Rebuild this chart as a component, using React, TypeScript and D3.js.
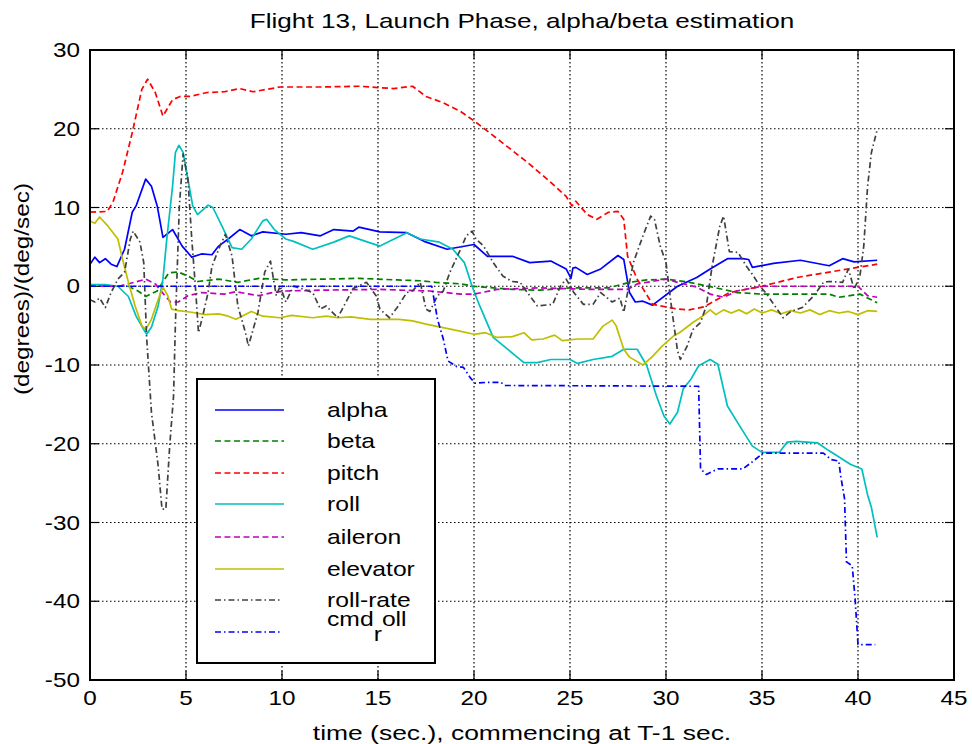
import React from 'react';
import * as d3 from 'd3';

const xTicks = [0, 5, 10, 15, 20, 25, 30, 35, 40, 45];
const yTicks = [-50, -40, -30, -20, -10, 0, 10, 20, 30];

const alphaT = [0, 0.25, 0.5, 0.8, 1.1, 1.4, 1.8, 2.2, 2.4, 2.9, 3.2, 3.5, 3.8, 4.3, 4.8, 5.3, 5.8, 6.35, 6.7, 7.2, 7.8, 8.4, 9, 10.2, 11, 12, 12.7, 13.7, 14.0, 15.1, 16.5, 17.4, 18.6, 20, 20.7, 22, 22.9, 24, 24.8, 25.05, 25.15, 25.3, 25.9, 26.6, 27.5, 27.8, 28.1, 28.4, 28.8, 29.3, 30.6, 31.6, 32.3, 33.2, 34, 34.3, 34.5, 35.6, 37, 38.5, 39.2, 39.8, 41];
const alphaV = [2.8, 3.7, 3.0, 3.5, 2.8, 2.5, 4.7, 9.4, 10.2, 13.6, 12.7, 10.2, 6.2, 7.2, 5.1, 3.7, 4.1, 4.0, 5.1, 6.0, 7.2, 6.4, 6.9, 6.6, 6.8, 6.4, 7.2, 7.0, 7.5, 6.9, 6.8, 5.7, 4.7, 5.3, 3.8, 3.8, 3.0, 3.2, 2.2, 1.0, 2.3, 2.4, 1.5, 2.2, 3.9, 3.4, -0.8, -2.0, -1.9, -2.4, 0, 1.1, 2.2, 3.5, 3.5, 3.4, 2.4, 2.9, 3.3, 2.6, 3.5, 3.1, 3.3];

const betaT = [0, 2.0, 2.5, 2.9, 3.5, 4.1, 4.6, 5.1, 5.6, 6.7, 7.7, 8.8, 10.2, 12, 14, 16, 17.2, 18, 19.3, 20, 22, 23.4, 25, 27, 28.1, 29, 30, 31, 32.6, 33.7, 35, 37, 38.5, 39, 40.1, 41];
const betaV = [0, 0, -0.6, -1.3, -0.6, 1.7, 1.8, 1.3, 0.6, 0.9, 0.5, 1.0, 0.8, 0.9, 1.0, 0.8, 0.7, 0.5, 0.3, 0, -0.4, -0.5, -0.2, -0.2, 0.5, 0.8, 0.9, 0.6, -0.2, -0.8, -1.0, -1.0, -1.0, -1.4, -1.0, -2.1];

const pitchT = [0, 0.9, 1.2, 1.7, 2.2, 2.7, 3.0, 3.4, 3.8, 4.3, 4.7, 5.2, 6.1, 7, 7.8, 8.5, 9.9, 12, 14, 15.8, 16.8, 17.5, 18.4, 19.3, 20, 20.7, 21.7, 22.8, 24, 24.8, 25.1, 25.3, 25.9, 26.4, 27, 27.5, 27.8, 28, 28.5, 29.3, 30.6, 31.2, 32, 33.3, 35, 36.8, 38.5, 41];
const pitchV = [9.4, 9.5, 10.7, 14.5, 19.5, 25, 26.3, 24.6, 21.6, 23.7, 24.1, 24.1, 24.6, 24.7, 25.1, 24.7, 25.3, 25.3, 25.4, 25.1, 25.4, 24.1, 23.3, 22.2, 21, 19.7, 17.8, 15.7, 13.2, 11.4, 10.2, 10.8, 9.1, 8.5, 9.4, 9.5, 8.5, 3.8, 0.9, -2.3, -2.9, -3.0, -2.6, -0.8, 0, 1.1, 1.8, 2.8];

const rollT = [0, 0.8, 1.45, 2.0, 2.4, 2.8, 2.95, 3.2, 3.55, 3.8, 4.0, 4.3, 4.45, 4.63, 4.85, 5.1, 5.35, 5.6, 6.15, 6.4, 6.9, 7.4, 7.9, 8.4, 9.0, 9.2, 9.6, 10.2, 10.6, 11.6, 12.7, 13.5, 15.1, 16.5, 17.2, 18.2, 18.9, 19.5, 19.9, 20.3, 21.0, 21.7, 22.6, 23.3, 24, 25, 25.4, 26.2, 27.2, 27.8, 28.5, 29.0, 29.5, 29.9, 30.2, 30.6, 30.9, 31.3, 31.7, 32.3, 32.7, 33.2, 33.85, 34.5, 35.0, 35.9, 36.3, 36.8, 37.9, 38.5, 39.6, 40.2, 40.5, 40.7, 41];
const rollV = [0.2, 0.2, 0, -1.3, -3.8, -5.5, -6.1, -5.2, -2.5, 0.9, 6, 12.7, 17, 17.9, 17, 13.6, 10.2, 9.1, 10.3, 10, 7.5, 4.9, 4.7, 6, 8.3, 8.5, 7.2, 6, 5.7, 4.7, 5.6, 6.4, 5.1, 6.8, 6.0, 5.6, 4.7, 3.0, 0, -2.5, -6.5, -7.9, -9.7, -9.7, -9.3, -9.3, -9.8, -9.3, -8.9, -8.0, -8.0, -10.1, -13.9, -16.5, -17.5, -16.0, -13.0, -11.8, -10.1, -9.3, -9.9, -15.2, -17.8, -20.3, -21.1, -21.1, -19.8, -19.7, -19.9, -20.9, -22.6, -23.2, -26.5, -28.1, -31.9];

const aileronT = [0, 1.5, 2.3, 2.9, 3.4, 3.9, 4.2, 4.6, 5.1, 5.8, 7, 7.6, 8.8, 9.5, 10.2, 12, 15, 17.7, 19.3, 20, 21.2, 23.4, 26, 28, 28.5, 30, 30.6, 31.6, 32.3, 33, 33.7, 35, 38.5, 40, 40.5, 41];
const aileronV = [0, 0, 0.5, 0.9, 0.3, -1.2, -2.0, -2.0, -1.2, -0.8, -1.0, -0.7, -1.2, -0.8, -0.6, -0.5, -0.4, -0.6, -1.0, -1.0, -0.4, -0.2, -0.4, -0.4, 0.3, 0.9, 0.5, -0.1, -1.0, -1.4, -0.6, 0, 0, 0, -1.2, -1.4];

const elevatorT = [0, 0.25, 0.5, 0.95, 1.45, 1.7, 2.0, 2.35, 2.7, 2.9, 3.2, 3.55, 3.8, 4.05, 4.25, 4.6, 5.3, 6.0, 6.7, 7.2, 7.6, 8.4, 9.0, 9.9, 10.5, 11.6, 12.3, 12.9, 13.6, 14.6, 16.1, 16.8, 17.5, 18.9, 20, 20.6, 21.2, 22, 22.6, 23.0, 23.6, 24.2, 24.6, 25.4, 26.2, 26.7, 27.2, 27.4, 27.8, 28.1, 28.8, 29.3, 29.8, 30.4, 30.7, 31.4, 31.9, 32.3, 32.6, 33, 33.4, 33.8, 34.2, 34.6, 35, 35.5, 36, 36.5, 37, 37.5, 38, 38.5, 39, 39.5, 40, 40.5, 41];
const elevatorV = [8.3, 8.0, 8.8, 7.6, 6.0, 3.4, 0.5, -2.5, -5.0, -5.5, -4.2, -1.7, -0.1, -1.2, -2.9, -3.1, -3.3, -3.6, -3.5, -3.8, -4.2, -3.2, -3.8, -4.0, -3.7, -4.0, -3.8, -4.0, -3.9, -4.2, -4.2, -4.4, -4.8, -5.5, -6.1, -5.9, -6.5, -6.4, -5.9, -6.8, -6.7, -6.2, -6.9, -6.7, -6.7, -5.1, -4.3, -5.0, -8.0, -9.0, -10.0, -8.9, -7.6, -6.3, -5.9, -4.6, -3.8, -3.0, -3.6, -3.0, -3.4, -3.0, -3.5, -2.9, -3.4, -3.0, -3.5, -3.1, -3.4, -3.0, -3.6, -3.1, -3.4, -3.2, -3.6, -3.1, -3.2];

const rollRateT = [0, 0.25, 0.5, 0.8, 1.1, 1.45, 1.8, 2.1, 2.25, 2.6, 2.8, 2.95, 3.2, 3.55, 3.75, 3.95, 4.15, 4.35, 4.45, 4.65, 4.85, 5.1, 5.3, 5.5, 5.65, 5.85, 6.15, 6.35, 6.7, 7.05, 7.4, 7.7, 8.1, 8.25, 8.75, 9.1, 9.4, 9.7, 9.9, 10.2, 10.6, 10.9, 11.6, 12.0, 12.3, 12.9, 13.4, 13.7, 14.4, 14.9, 15.1, 15.6, 16.0, 16.5, 16.8, 17.2, 17.5, 17.7, 18.1, 18.4, 18.75, 19.3, 19.6, 19.9, 20.1, 20.5, 21.0, 21.5, 22.0, 22.4, 22.9, 23.3, 24.1, 24.5, 24.8, 25.2, 25.7, 26.2, 26.6, 27.2, 27.6, 27.8, 28.0, 28.3, 28.8, 29.2, 29.4, 29.7, 30.0, 30.3, 30.6, 30.75, 31.1, 31.4, 31.8, 32.1, 32.4, 32.8, 33.0, 33.3, 33.75, 34.2, 34.5, 34.9, 35.25, 35.5, 35.9, 36.1, 36.5, 37.1, 37.7, 38.2, 38.5, 39.2, 39.5, 39.8, 40.1, 40.3, 40.5, 40.7, 41];
const rollRateV = [-1.7, -2.0, -1.5, -2.7, -0.8, 0.9, 1.8, 6.0, 7.0, 5.6, 3.0, -6.5, -16, -22.8, -28.3, -28.3, -20.3, -14, -4.6, 10, 16.8, 13.6, 6.0, -0.4, -5.9, -4, -0.8, 2.5, 4.7, 6.6, 3.8, -2.5, -5.9, -7.6, -3.3, 1.8, 3.2, -1.2, 0, -2.0, 0, -0.2, -0.8, -2.9, -2.5, -4.0, -1.7, -0.3, 0.5, -1.2, -2.9, -4.0, -2.7, -0.8, -0.6, 0.5, -2.9, -3.2, -1.2, -0.6, 1.8, 4.7, 6.4, 7.0, 6.0, 5.1, 3.0, 1.3, 0.6, 0.5, -1.2, -2.5, -2.3, 0, 0.9, -0.8, -2.3, -2.3, -0.8, -2.0, -1.5, -3.3, -0.8, 3.0, 6.4, 8.9, 8.5, 5.1, 3.0, -2.9, -8.2, -9.3, -7.6, -5.5, -4.6, -2.5, 2.5, 7.6, 8.9, 4.4, 4.3, 2.5, 1.5, 0, -1.0, -1.9, -3.3, -4.0, -3.2, -2.7, -1.2, 0.5, 0.6, 0.5, 2.2, -0.4, 1.3, 5.1, 12.7, 17.0, 19.9];

const cmdRollT = [0, 17.8, 18.1, 18.4, 18.65, 19.1, 19.45, 19.8, 20.05, 20.7, 21.4, 21.6, 31.7, 31.8, 32.1, 32.7, 34.0, 34.55, 35.05, 38.2, 38.6, 39.0, 39.1, 39.3, 39.4, 39.7, 39.85, 40.0, 40.9];
const cmdRollV = [0, 0, -4.2, -6.7, -9.5, -10.2, -10.3, -11.6, -12.3, -12.2, -12.2, -12.6, -12.7, -23.2, -23.9, -23.2, -23.2, -22.2, -21.2, -21.2, -22.0, -22.2, -24.1, -27, -35, -35.5, -39.7, -45.5, -45.5];

const seriesNames = ['alpha', 'beta', 'pitch', 'roll', 'aileron', 'elevator', 'roll-rate', 'cmd_roll'];

const DASH = '6,3.5';
const DASHDOT = '6,3,1.5,3';

const series = [
  { t: alphaT, v: alphaV, color: '#0000ff', dash: undefined as string | undefined },
  { t: betaT, v: betaV, color: '#008000', dash: DASH },
  { t: pitchT, v: pitchV, color: '#ff0000', dash: DASH },
  { t: rollT, v: rollV, color: '#00bfbf', dash: undefined },
  { t: aileronT, v: aileronV, color: '#bf00bf', dash: DASH },
  { t: elevatorT, v: elevatorV, color: '#bfbf00', dash: undefined },
  { t: rollRateT, v: rollRateV, color: '#404040', dash: DASHDOT },
  { t: cmdRollT, v: cmdRollV, color: '#0000ff', dash: DASHDOT },
];

const FONT = '"Liberation Sans", Arial, Helvetica, sans-serif';

function SText(props: { x: number; y: number; size: number; sx: number; anchor?: string; rotate?: number; children: React.ReactNode }) {
  const { x, y, size, anchor = 'start', rotate = 0, children, sx } = props;
  return (
    <text
      transform={`translate(${x},${y}) rotate(${rotate}) scale(${sx},1)`}
      fontFamily={FONT}
      fontSize={size}
      textAnchor={anchor}
      fill="#000"
    >
      {children}
    </text>
  );
}

export default function App() {
  const W = 972;
  const H = 744;
  const left = 90;
  const right = 954;
  const top = 50;
  const bottom = 680;
  const x = d3.scaleLinear().domain([0, 45]).range([left, right]);
  const y = d3.scaleLinear().domain([-50, 30]).range([bottom, top]);
  const tickLen = 9;

  const makePath = (t: number[], v: number[]) => {
    const pts: [number, number][] = t.map((tt, i) => [tt, v[i]]);
    return d3.line<[number, number]>().x((d) => x(d[0])).y((d) => y(d[1]))(pts) || '';
  };

  const legendRowsY = [410, 441, 473, 504, 537, 569, 600, 632];

  return (
    <svg width={W} height={H} style={{ position: 'absolute', left: 0, top: 0, background: '#fff' }}>
      <rect x={0} y={0} width={W} height={H} fill="#fff" />
      <defs>
        <clipPath id="plotclip">
          <rect x={left} y={top} width={right - left} height={bottom - top} />
        </clipPath>
      </defs>
      {xTicks.slice(1, -1).map((t) => (
        <line key={'gx' + t} x1={x(t)} x2={x(t)} y1={top} y2={bottom} stroke="#000" strokeWidth={1.2} strokeDasharray="1.5,2.5" />
      ))}
      {yTicks.slice(1, -1).map((t) => (
        <line key={'gy' + t} x1={left} x2={right} y1={y(t)} y2={y(t)} stroke="#000" strokeWidth={1.2} strokeDasharray="1.5,2.5" />
      ))}
      {xTicks.map((t) => (
        <g key={'tx' + t}>
          <line x1={x(t)} x2={x(t)} y1={bottom} y2={bottom - tickLen} stroke="#000" strokeWidth={1.2} />
          <line x1={x(t)} x2={x(t)} y1={top} y2={top + tickLen} stroke="#000" strokeWidth={1.2} />
        </g>
      ))}
      {yTicks.map((t) => (
        <g key={'ty' + t}>
          <line x1={left} x2={left + tickLen} y1={y(t)} y2={y(t)} stroke="#000" strokeWidth={1.2} />
          <line x1={right} x2={right - tickLen} y1={y(t)} y2={y(t)} stroke="#000" strokeWidth={1.2} />
        </g>
      ))}
      <g clipPath="url(#plotclip)">
        {series.map((s, i) => (
          <path
            key={'s' + i}
            d={makePath(s.t, s.v)}
            fill="none"
            stroke={s.color}
            strokeWidth={1.7}
            strokeDasharray={s.dash}
            strokeLinejoin="round"
          />
        ))}
      </g>
      <rect x={left} y={top} width={right - left} height={bottom - top} fill="none" stroke="#000" strokeWidth={2} />
      {xTicks.map((t) => (
        <SText key={'lx' + t} x={x(t)} y={705} size={20} sx={1.215} anchor="middle">{String(t)}</SText>
      ))}
      {yTicks.map((t) => (
        <SText key={'ly' + t} x={80} y={y(t) + 7} size={20} sx={1.215} anchor="end">{String(t)}</SText>
      ))}
      <SText x={(left + right) / 2} y={28} size={20.5} sx={1.275} anchor="middle">Flight 13, Launch Phase, alpha/beta estimation</SText>
      <SText x={(left + right) / 2} y={740} size={21} sx={1.26} anchor="middle">time (sec.), commencing at T-1 sec.</SText>
      <SText x={29} y={289} size={20} sx={1.215} anchor="middle" rotate={-90}>(degrees)/(deg/sec)</SText>
      <rect x={197} y={379} width={238} height={284} fill="#fff" stroke="#000" strokeWidth={2} />
      {series.map((s, i) => (
        <line
          key={'lg' + i}
          x1={215}
          x2={i >= 6 ? 282 : 284}
          y1={legendRowsY[i]}
          y2={legendRowsY[i]}
          stroke={s.color}
          strokeWidth={1.7}
          strokeDasharray={s.dash}
        />
      ))}
      {seriesNames.map((n, i) =>
        i < 7 ? (
          <SText key={'ln' + i} x={327} y={legendRowsY[i] + 7} size={20.5} sx={1.205}>{n}</SText>
        ) : (
          <SText key={'ln' + i} x={327} y={626} size={20.5} sx={1.205}>
            {'cmd'}
            <tspan dy={15}>{'r'}</tspan>
            <tspan dy={-15}>{'oll'}</tspan>
          </SText>
        )
      )}
    </svg>
  );
}
